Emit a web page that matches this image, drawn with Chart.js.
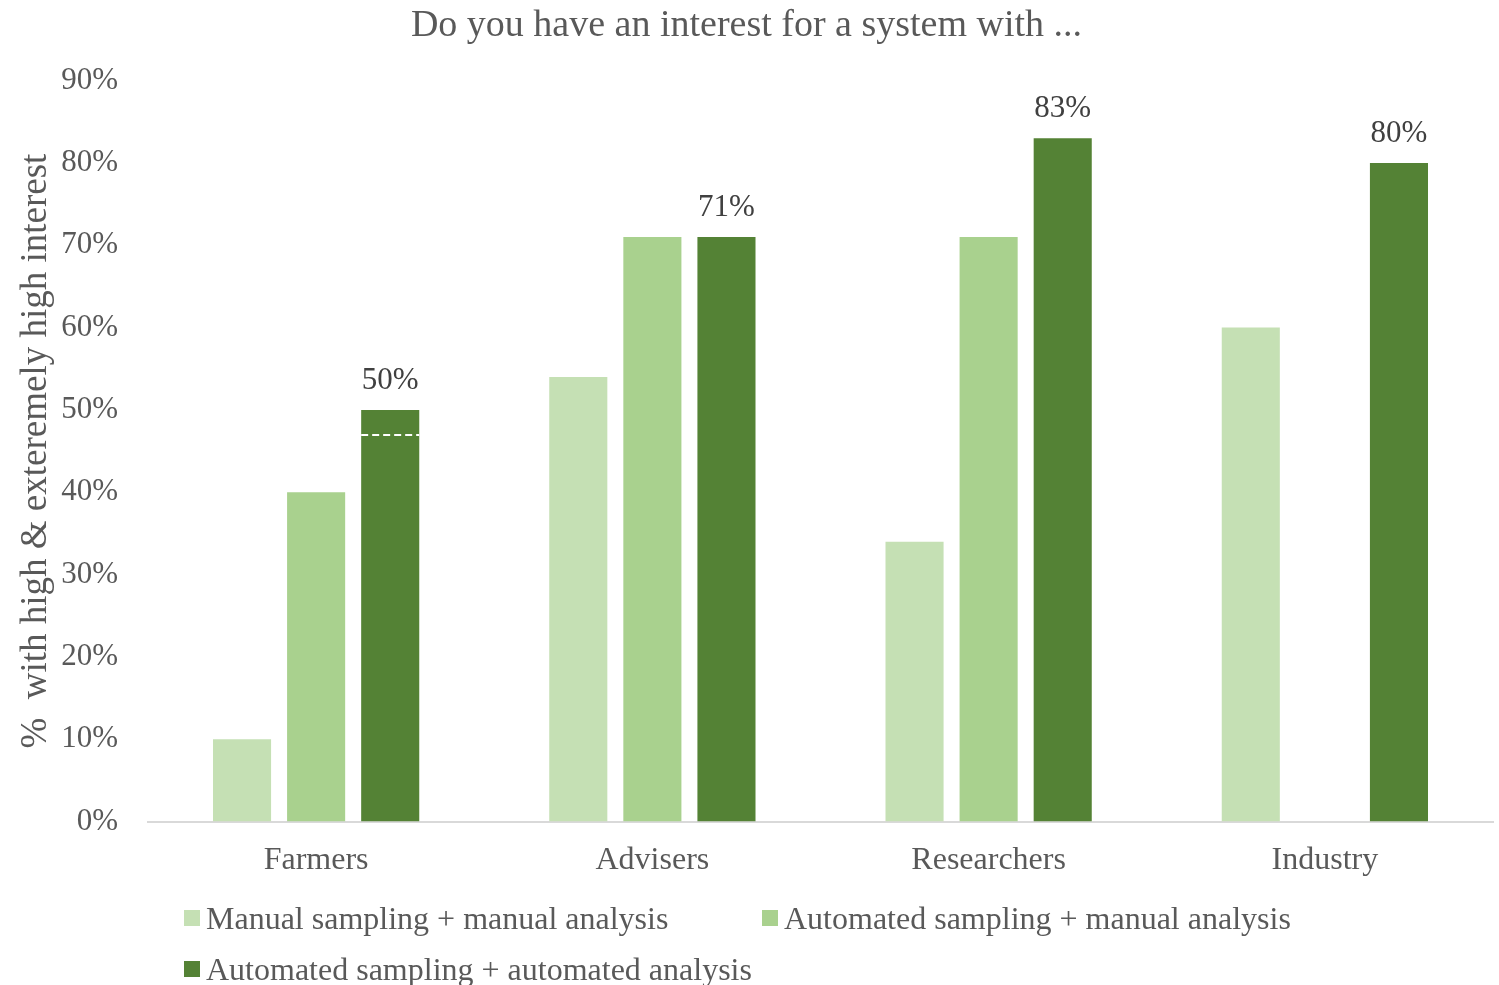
<!DOCTYPE html>
<html>
<head>
<meta charset="utf-8">
<script src="https://cdn.jsdelivr.net/npm/chart.js@4/dist/chart.umd.min.js"></script>
<style>
  html, body { margin: 0; padding: 0; background: #fff; }
  #wrap { position: relative; width: 1499px; height: 985px; }
  #legend {
    position: absolute; left: 184px; top: 899px;
    display: grid; grid-template-columns: 578px 578px; row-gap: 13px;
    font-family: "Liberation Serif", "Times New Roman", serif;
    font-size: 32px; color: #595959;
  }
  .item { display: flex; align-items: center; white-space: nowrap; line-height: 38px; }
  .box { width: 16px; height: 16px; margin-right: 6px; flex: none; }
</style>
</head>
<body>
<div id="wrap">
  <canvas id="chart" width="1499" height="985"></canvas>
  <div id="legend"></div>
</div>
<script>
const categories = ['Farmers', 'Advisers', 'Researchers', 'Industry'];
const seriesNames = [
  'Manual sampling + manual analysis',
  'Automated sampling + manual analysis',
  'Automated sampling + automated analysis'
];
const manualManual = [10, 54, 34, 60];
const autoManual = [40, 71, 71, null];
const autoAuto = [50, 71, 83, 80];
const seriesColors = ['#c5e0b4', '#a9d18e', '#548235'];
const yTicks = [0, 10, 20, 30, 40, 50, 60, 70, 80, 90];
const farmersMarker = 47;

const serif = '"Liberation Serif", "Times New Roman", serif';
const textGrey = '#595959';

// value labels over the fully automated bars, plus the dashed marker on Farmers
const barExtras = {
  id: 'barExtras',
  afterDatasetsDraw(chart) {
    const { ctx, scales: { y } } = chart;
    const meta = chart.getDatasetMeta(2);
    ctx.save();
    ctx.font = '31px ' + serif;
    ctx.fillStyle = '#404040';
    ctx.textAlign = 'center';
    ctx.textBaseline = 'middle';
    meta.data.forEach((bar, i) => {
      const v = autoAuto[i];
      if (v == null) return;
      ctx.fillText(v + '%', bar.x, bar.y - 29);
    });
    const farm = meta.data[0];
    const yy = Math.round(y.getPixelForValue(farmersMarker));
    ctx.strokeStyle = '#ffffff';
    ctx.lineWidth = 2;
    ctx.setLineDash([7, 4]);
    ctx.beginPath();
    ctx.moveTo(farm.x - farm.width / 2, yy);
    ctx.lineTo(farm.x + farm.width / 2, yy);
    ctx.stroke();
    ctx.restore();
  }
};

const htmlLegend = {
  id: 'htmlLegend',
  afterUpdate(chart) {
    const box = document.getElementById('legend');
    box.innerHTML = '';
    chart.data.datasets.forEach((ds) => {
      const item = document.createElement('div');
      item.className = 'item';
      const sw = document.createElement('span');
      sw.className = 'box';
      sw.style.background = ds.backgroundColor;
      const label = document.createElement('span');
      label.textContent = ds.label;
      item.appendChild(sw);
      item.appendChild(label);
      box.appendChild(item);
    });
  }
};

new Chart(document.getElementById('chart'), {
  type: 'bar',
  data: {
    labels: categories,
    datasets: [manualManual, autoManual, autoAuto].map((data, i) => ({
      label: seriesNames[i],
      data,
      backgroundColor: seriesColors[i],
      categoryPercentage: 0.661,
      barPercentage: 0.784
    }))
  },
  options: {
    responsive: false,
    animation: false,
    layout: { padding: { left: 0, right: 6, top: 0, bottom: 93 } },
    plugins: {
      legend: { display: false },
      tooltip: { enabled: false },
      title: {
        display: true,
        text: 'Do you have an interest for a system with ...',
        color: textGrey,
        font: { family: serif, size: 38, weight: 'normal' },
        padding: { top: 3, bottom: 32 }
      }
    },
    scales: {
      x: {
        grid: { display: false },
        border: { color: '#d9d9d9', width: 2 },
        ticks: { color: textGrey, font: { family: serif, size: 32 }, padding: 12 }
      },
      y: {
        min: 0,
        max: 90,
        afterBuildTicks(scale) {
          scale.ticks = yTicks.map((value) => ({ value }));
        },
        afterFit(scale) {
          scale.width = 148;
        },
        grid: { display: false, drawTicks: false },
        border: { display: false },
        ticks: {
          color: textGrey,
          font: { family: serif, size: 31 },
          padding: 30,
          callback: (v) => v + '%'
        },
        title: {
          display: true,
          text: '%  with high & exteremely high interest',
          color: textGrey,
          font: { family: serif, size: 37 },
          padding: { top: 14, bottom: 0 }
        }
      }
    }
  },
  plugins: [barExtras, htmlLegend]
});
</script>
</body>
</html>
